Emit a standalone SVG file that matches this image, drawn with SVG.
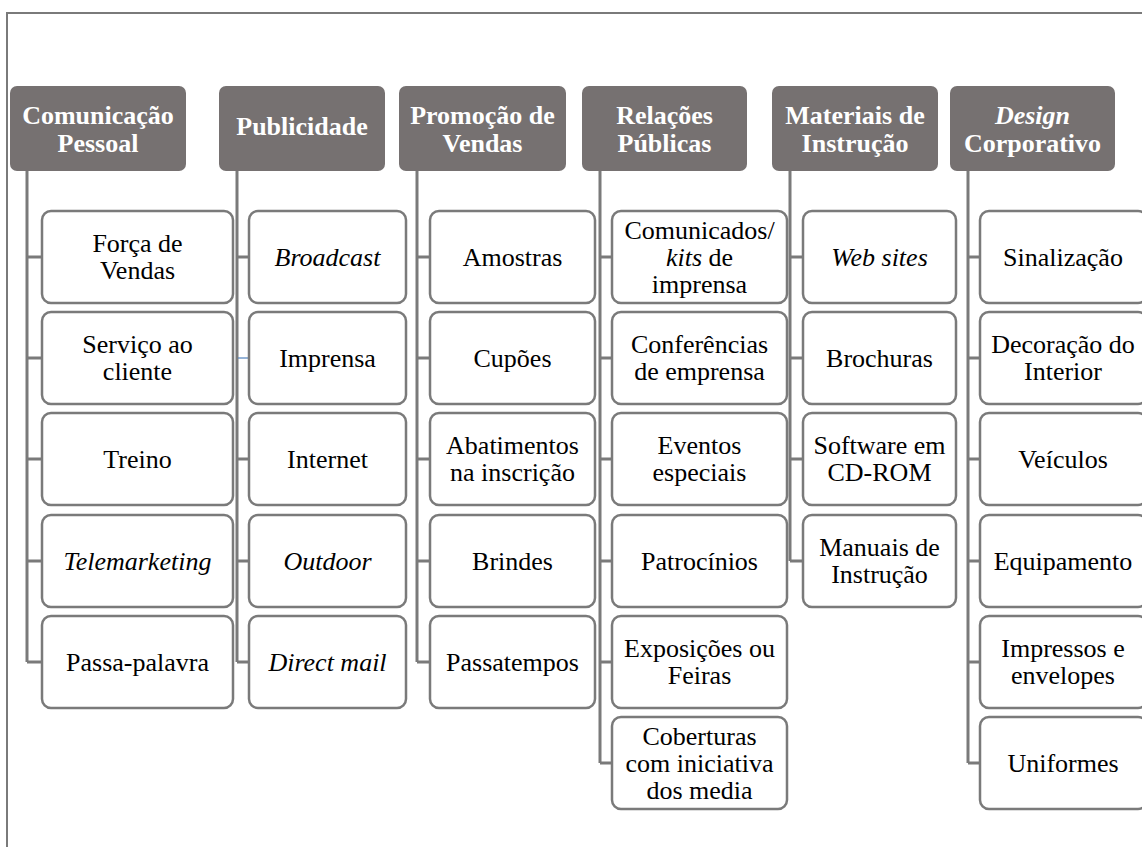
<svg xmlns="http://www.w3.org/2000/svg" width="1142" height="847" viewBox="0 0 1142 847">
<style>
.hdr{fill:#767171;}
.ht{font-family:"Liberation Serif","Times New Roman",serif;font-size:26px;font-weight:bold;fill:#ffffff;text-anchor:middle;}
.box{fill:#ffffff;stroke:#7a7a7a;stroke-width:2.5;}
.bt{font-family:"Liberation Serif","Times New Roman",serif;font-size:26px;fill:#000000;text-anchor:middle;}
.conn{stroke:#7a7a7a;stroke-width:3;fill:none;}
.frame{stroke:#7a7a7a;stroke-width:2;fill:none;}
.i{font-style:italic;}
</style>
<rect width="1142" height="847" fill="#ffffff"/>
<path class="frame" d="M7,847 V13 H1142"/>

<g id="connectors">
<path class="conn" d="M27,171 V662 M27,257 H42 M27,358 H42 M27,459 H42 M27,561 H42 M27,662 H42"/>
<path class="conn" d="M237,171 V662 M237,257 H249 M237,459 H249 M237,561 H249 M237,662 H249"/>
<path d="M238,358 H249" stroke="#4f81bd" stroke-width="1.2"/>
<path class="conn" d="M417,171 V662 M417,257 H430 M417,358 H430 M417,459 H430 M417,561 H430 M417,662 H430"/>
<path class="conn" d="M600,171 V763 M600,257 H612 M600,358 H612 M600,459 H612 M600,561 H612 M600,662 H612 M600,763 H612"/>
<path class="conn" d="M790,171 V561 M790,257 H803 M790,358 H803 M790,459 H803 M790,561 H803"/>
<path class="conn" d="M968,171 V763 M968,257 H980 M968,358 H980 M968,459 H980 M968,561 H980 M968,662 H980 M968,763 H980"/>
</g>

<g id="h1"><rect class="hdr" x="10" y="86" width="176" height="85" rx="7"/><text class="ht" x="98" y="124">Comunicação</text><text class="ht" x="98" y="152">Pessoal</text></g>
<g id="h2"><rect class="hdr" x="219" y="86" width="166" height="85" rx="7"/><text class="ht" x="302" y="135">Publicidade</text></g>
<g id="h3"><rect class="hdr" x="399" y="86" width="167" height="85" rx="7"/><text class="ht" x="482.5" y="124">Promoção de</text><text class="ht" x="482.5" y="152">Vendas</text></g>
<g id="h4"><rect class="hdr" x="582" y="86" width="165" height="85" rx="7"/><text class="ht" x="664.5" y="124">Relações</text><text class="ht" x="664.5" y="152">Públicas</text></g>
<g id="h5"><rect class="hdr" x="772" y="86" width="166" height="85" rx="7"/><text class="ht" x="855" y="124">Materiais de</text><text class="ht" x="855" y="152">Instrução</text></g>
<g id="h6"><rect class="hdr" x="950" y="86" width="165" height="85" rx="7"/><text class="ht i" x="1032.5" y="124">Design</text><text class="ht" x="1032.5" y="152">Corporativo</text></g>

<g id="c1b1"><rect class="box" x="42" y="211" width="191" height="92" rx="9"/><text class="bt" x="137.5" y="252">Força de</text><text class="bt" x="137.5" y="278.5">Vendas</text></g>
<g id="c1b2"><rect class="box" x="42" y="312" width="191" height="92" rx="9"/><text class="bt" x="137.5" y="353">Serviço ao</text><text class="bt" x="137.5" y="379.5">cliente</text></g>
<g id="c1b3"><rect class="box" x="42" y="413" width="191" height="92" rx="9"/><text class="bt" x="137.5" y="467.5">Treino</text></g>
<g id="c1b4"><rect class="box" x="42" y="515" width="191" height="92" rx="9"/><text class="bt i" x="137.5" y="569.5">Telemarketing</text></g>
<g id="c1b5"><rect class="box" x="42" y="616" width="191" height="92" rx="9"/><text class="bt" x="137.5" y="670.5">Passa-palavra</text></g>

<g id="c2b1"><rect class="box" x="249" y="211" width="157" height="92" rx="9"/><text class="bt i" x="327.5" y="265.5">Broadcast</text></g>
<g id="c2b2"><rect class="box" x="249" y="312" width="157" height="92" rx="9"/><text class="bt" x="327.5" y="366.5">Imprensa</text></g>
<g id="c2b3"><rect class="box" x="249" y="413" width="157" height="92" rx="9"/><text class="bt" x="327.5" y="467.5">Internet</text></g>
<g id="c2b4"><rect class="box" x="249" y="515" width="157" height="92" rx="9"/><text class="bt i" x="327.5" y="569.5">Outdoor</text></g>
<g id="c2b5"><rect class="box" x="249" y="616" width="157" height="92" rx="9"/><text class="bt i" x="327.5" y="670.5">Direct mail</text></g>

<g id="c3b1"><rect class="box" x="430" y="211" width="165" height="92" rx="9"/><text class="bt" x="512.5" y="265.5">Amostras</text></g>
<g id="c3b2"><rect class="box" x="430" y="312" width="165" height="92" rx="9"/><text class="bt" x="512.5" y="366.5">Cupões</text></g>
<g id="c3b3"><rect class="box" x="430" y="413" width="165" height="92" rx="9"/><text class="bt" x="512.5" y="454">Abatimentos</text><text class="bt" x="512.5" y="480.5">na inscrição</text></g>
<g id="c3b4"><rect class="box" x="430" y="515" width="165" height="92" rx="9"/><text class="bt" x="512.5" y="569.5">Brindes</text></g>
<g id="c3b5"><rect class="box" x="430" y="616" width="165" height="92" rx="9"/><text class="bt" x="512.5" y="670.5">Passatempos</text></g>

<g id="c4b1"><rect class="box" x="612" y="211" width="175" height="92" rx="9"/><text class="bt" x="699.5" y="238.5">Comunicados/</text><text class="bt" x="699.5" y="265.5"><tspan class="i">kits</tspan> de</text><text class="bt" x="699.5" y="292.5">imprensa</text></g>
<g id="c4b2"><rect class="box" x="612" y="312" width="175" height="92" rx="9"/><text class="bt" x="699.5" y="353">Conferências</text><text class="bt" x="699.5" y="379.5">de emprensa</text></g>
<g id="c4b3"><rect class="box" x="612" y="413" width="175" height="92" rx="9"/><text class="bt" x="699.5" y="454">Eventos</text><text class="bt" x="699.5" y="480.5">especiais</text></g>
<g id="c4b4"><rect class="box" x="612" y="515" width="175" height="92" rx="9"/><text class="bt" x="699.5" y="569.5">Patrocínios</text></g>
<g id="c4b5"><rect class="box" x="612" y="616" width="175" height="92" rx="9"/><text class="bt" x="699.5" y="657">Exposições ou</text><text class="bt" x="699.5" y="683.5">Feiras</text></g>
<g id="c4b6"><rect class="box" x="612" y="717" width="175" height="92" rx="9"/><text class="bt" x="699.5" y="744.5">Coberturas</text><text class="bt" x="699.5" y="771.5">com iniciativa</text><text class="bt" x="699.5" y="798.5">dos media</text></g>

<g id="c5b1"><rect class="box" x="803" y="211" width="153" height="92" rx="9"/><text class="bt i" x="879.5" y="265.5">Web sites</text></g>
<g id="c5b2"><rect class="box" x="803" y="312" width="153" height="92" rx="9"/><text class="bt" x="879.5" y="366.5">Brochuras</text></g>
<g id="c5b3"><rect class="box" x="803" y="413" width="153" height="92" rx="9"/><text class="bt" x="879.5" y="454">Software em</text><text class="bt" x="879.5" y="480.5">CD-ROM</text></g>
<g id="c5b4"><rect class="box" x="803" y="515" width="153" height="92" rx="9"/><text class="bt" x="879.5" y="556">Manuais de</text><text class="bt" x="879.5" y="582.5">Instrução</text></g>

<g id="c6b1"><rect class="box" x="980" y="211" width="167" height="92" rx="9"/><text class="bt" x="1063" y="265.5">Sinalização</text></g>
<g id="c6b2"><rect class="box" x="980" y="312" width="167" height="92" rx="9"/><text class="bt" x="1063" y="353">Decoração do</text><text class="bt" x="1063" y="379.5">Interior</text></g>
<g id="c6b3"><rect class="box" x="980" y="413" width="167" height="92" rx="9"/><text class="bt" x="1063" y="467.5">Veículos</text></g>
<g id="c6b4"><rect class="box" x="980" y="515" width="167" height="92" rx="9"/><text class="bt" x="1063" y="569.5">Equipamento</text></g>
<g id="c6b5"><rect class="box" x="980" y="616" width="167" height="92" rx="9"/><text class="bt" x="1063" y="657">Impressos e</text><text class="bt" x="1063" y="683.5">envelopes</text></g>
<g id="c6b6"><rect class="box" x="980" y="717" width="167" height="92" rx="9"/><text class="bt" x="1063" y="771.5">Uniformes</text></g>
</svg>
